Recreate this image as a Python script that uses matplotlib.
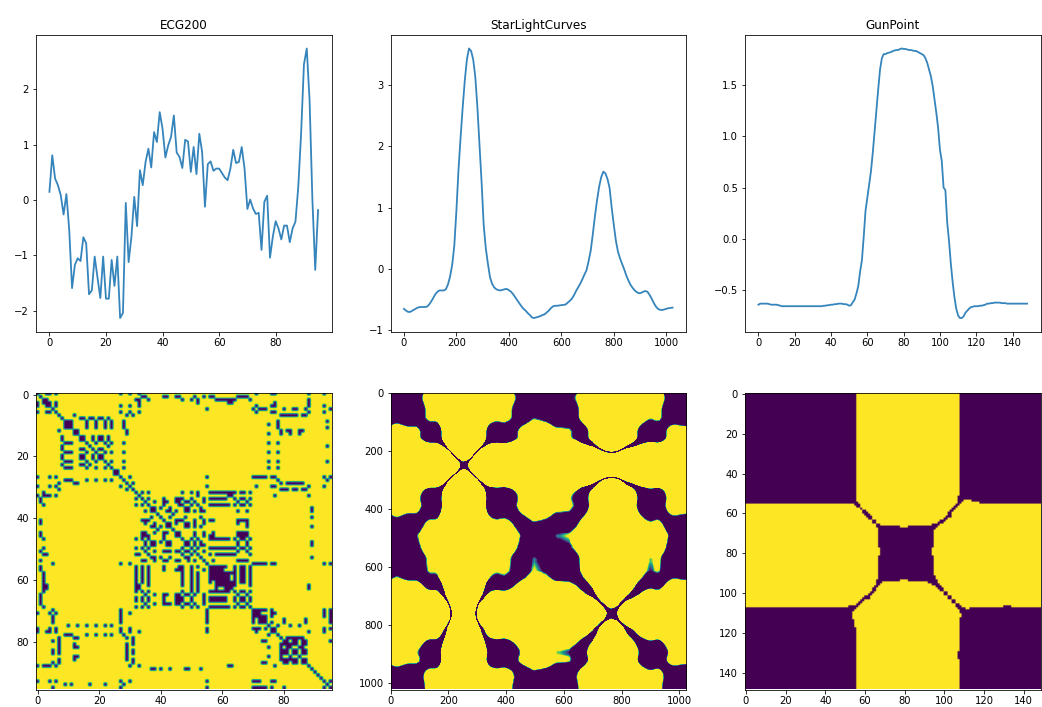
import numpy as np
import matplotlib
matplotlib.use("Agg")
import matplotlib.pyplot as plt
from matplotlib.colors import ListedColormap

titles = ["ECG200", "StarLightCurves", "GunPoint"]

ecg = [0.15,0.81,0.39,0.27,0.09,-0.26,0.11,-0.54,-1.59,-1.17,-1.05,-1.10,-0.67,-0.78,-1.70,-1.63,
       -1.02,-1.40,-1.77,-1.02,-1.78,-1.78,-1.08,-1.55,-1.02,-2.13,-2.04,-0.05,-1.12,-0.66,0.06,-0.47,
       0.54,0.27,0.69,0.93,0.59,1.23,1.05,1.59,1.29,0.77,0.99,1.14,1.53,0.86,0.78,0.58,
       1.09,1.06,0.51,0.96,0.47,1.20,0.87,-0.12,0.65,0.70,0.53,0.57,0.57,0.49,0.41,0.36,
       0.57,0.91,0.67,0.69,0.96,0.57,-0.16,0.01,-0.15,-0.25,-0.23,-0.90,-0.03,0.08,-1.04,-0.66,
       -0.38,-0.51,-0.71,-0.46,-0.46,-0.76,-0.51,-0.39,0.24,1.20,2.45,2.74,1.80,0.00,-1.26,-0.18]

star_step = 8
star = [-.65,-.68,-.70,-.70,-.68,-.66,-.64,-.625,-.62,-.62,-.62,-.615,-.58,-.53,-.47,-.41,
        -.37,-.35,-.35,-.35,-.33,-.25,-.12,.07,.38,.95,1.62,2.15,2.64,3.08,3.42,3.60,
        3.56,3.42,3.14,2.64,2.03,1.42,.72,.34,.09,-.13,-.24,-.30,-.33,-.345,-.35,-.34,
        -.33,-.325,-.345,-.37,-.41,-.46,-.51,-.56,-.61,-.65,-.68,-.72,-.75,-.79,-.80,-.79,
        -.78,-.77,-.75,-.74,-.71,-.68,-.64,-.61,-.60,-.60,-.595,-.59,-.585,-.58,-.55,-.52,
        -.485,-.43,-.36,-.30,-.24,-.17,-.09,-.02,.13,.30,.57,.86,1.12,1.34,1.50,1.59,
        1.56,1.47,1.32,1.00,.72,.46,.28,.17,.08,-.01,-.11,-.19,-.26,-.31,-.35,-.38,
        -.395,-.39,-.37,-.36,-.37,-.42,-.48,-.55,-.61,-.65,-.665,-.67,-.66,-.65,-.64,-.635,
        -.63]

gun = [-0.64,-0.63,-0.63,-0.63,-0.63,-0.63,-0.635,-0.64,-0.64,-0.64,-0.64,-0.645,-0.65,-0.655,-0.655,-0.655,
       -0.655,-0.655,-0.655,-0.655,-0.655,-0.655,-0.655,-0.655,-0.655,-0.655,-0.655,-0.655,-0.655,-0.655,-0.655,-0.655,
       -0.655,-0.655,-0.655,-0.655,-0.65,-0.65,-0.645,-0.645,-0.64,-0.64,-0.635,-0.635,-0.63,-0.63,-0.63,-0.635,
       -0.635,-0.64,-0.65,-0.645,-0.615,-0.59,-0.53,-0.46,-0.32,-0.21,0.02,0.275,0.40,0.53,0.66,0.84,1.05,1.25,
       1.46,1.65,1.76,1.80,1.80,1.81,1.815,1.82,1.83,1.835,1.84,1.84,1.85,1.855,1.85,1.85,1.845,1.84,1.84,1.835,
       1.83,1.83,1.82,1.81,1.80,1.79,1.76,1.715,1.65,1.585,1.49,1.36,1.23,1.08,0.87,0.76,0.50,0.475,0.16,-0.02,
       -0.24,-0.42,-0.57,-0.68,-0.745,-0.77,-0.77,-0.755,-0.72,-0.70,-0.68,-0.665,-0.66,-0.655,-0.655,-0.655,-0.65,-0.65,-0.645,-0.64,
       -0.63,-0.63,-0.625,-0.625,-0.62,-0.62,-0.62,-0.62,-0.625,-0.625,-0.625,-0.63,-0.63,-0.63,-0.63,-0.63,
       -0.63,-0.63,-0.63,-0.63,-0.63,-0.63,-0.63]

eps = 0.2


def dist(values):
    v = np.asarray(values, dtype=float)
    return np.abs(v[:, None] - v[None, :])


def signed_diff(values):
    v = np.asarray(values, dtype=float)
    return v[:, None] - v[None, :]


# colour map on the signed difference: dark inside +-eps, yellow beyond it
R = 0.5
delta = 0.014
levels = np.abs(np.linspace(-R, R, 2048))
band_cmap = ListedColormap(plt.get_cmap("viridis")(np.clip((levels - (eps - delta)) / (2 * delta), 0, 1)))

W, H = 1042.0, 707.0
lefts = [36, 390.5, 745]
aw = 295.5
tops = [35, 393]
ah = 296.5

fig = plt.figure(figsize=(W / 72, H / 72), dpi=72)
axes = [[fig.add_axes([l / W, 1 - (t + ah) / H, aw / W, ah / H]) for l in lefts] for t in tops]

axes[0][0].plot(np.arange(len(ecg)), ecg, color="C0", lw=1.8, alpha=0.9)
axes[0][1].plot(np.arange(len(star)) * star_step, star, color="C0", lw=1.8, alpha=0.9)
axes[0][2].plot(np.arange(len(gun)), gun, color="C0", lw=1.8, alpha=0.9)
for ax, t in zip(axes[0], titles):
    ax.set_title(t, fontsize=12)

axes[1][0].imshow(dist(ecg) > eps, cmap="viridis", aspect="auto", interpolation="hanning")

half = star_step / 2
n_star = (len(star) - 1) * star_step
axes[1][1].imshow(signed_diff(star), cmap=band_cmap, aspect="auto", interpolation="bilinear",
                  interpolation_stage="data", vmin=-R, vmax=R,
                  extent=(-half, n_star + half, n_star + half, -half))
axes[1][1].set_xlim(-0.5, 1023.5)
axes[1][1].set_ylim(1023.5, -0.5)

axes[1][2].imshow(dist(gun) > eps, cmap="viridis", aspect="auto", interpolation="hanning")

fig.savefig("out.png", dpi=72)
